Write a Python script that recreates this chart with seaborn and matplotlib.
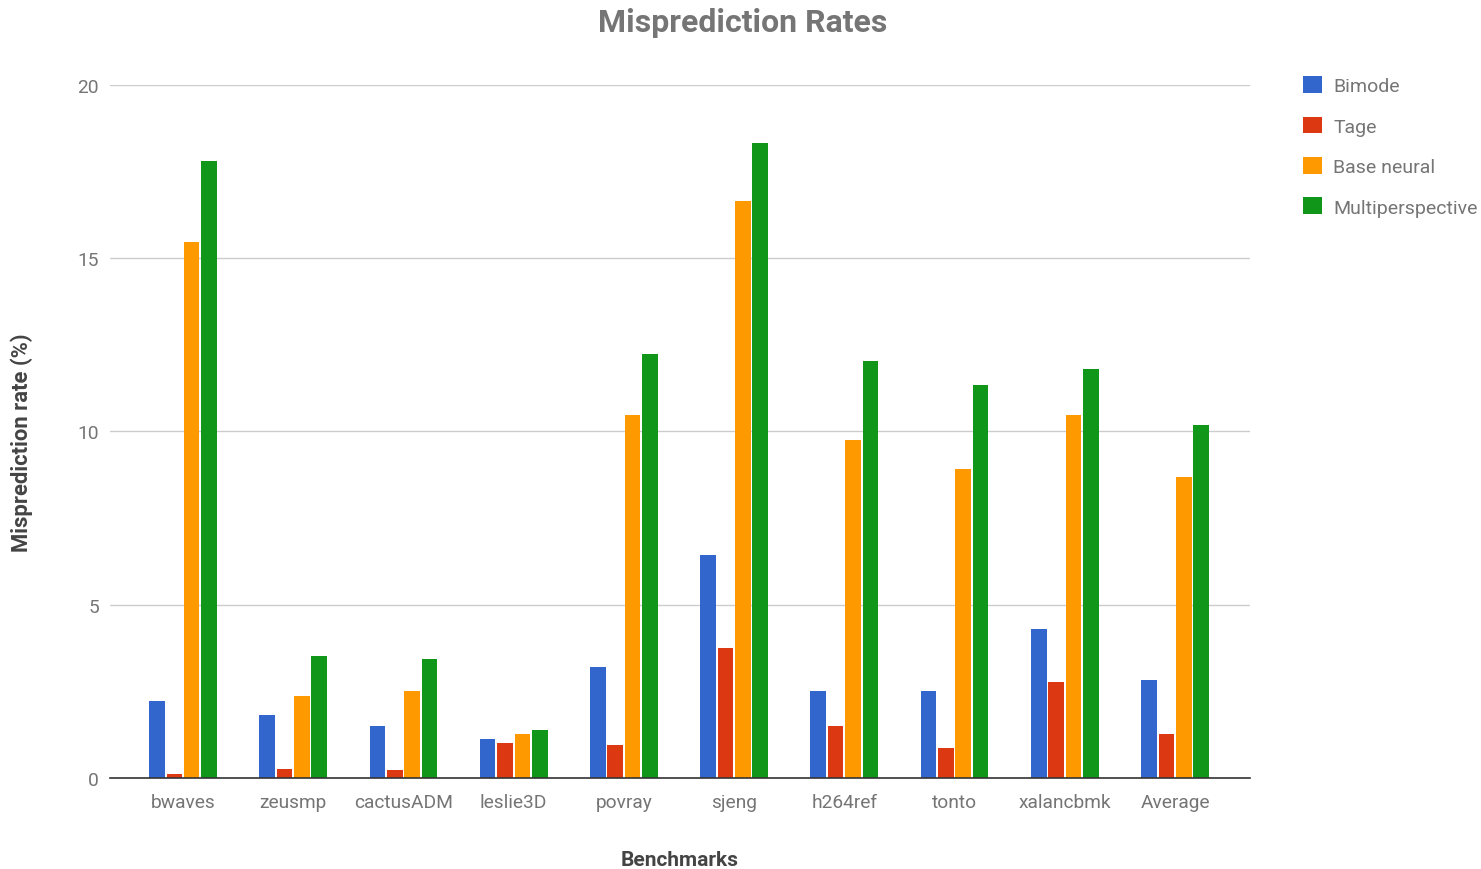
import pandas as pd
import matplotlib.pyplot as plt
import seaborn as sns

# chart data
benchmarks = ["bwaves", "zeusmp", "cactusADM", "leslie3D", "povray",
              "sjeng", "h264ref", "tonto", "xalancbmk", "Average"]
bimode = [2.22, 1.82, 1.50, 1.13, 3.20, 6.44, 2.51, 2.51, 4.30, 2.83]
tage = [0.12, 0.26, 0.23, 1.00, 0.95, 3.75, 1.50, 0.87, 2.77, 1.27]
base_neural = [15.47, 2.37, 2.51, 1.27, 10.48, 16.65, 9.75, 8.92, 10.48, 8.69]
multiperspective = [17.80, 3.52, 3.43, 1.39, 12.24, 18.33, 12.03, 11.34, 11.80, 10.19]

series_names = ["Bimode", "Tage", "Base neural", "Multiperspective"]
colors = ["#3366CC", "#DC3912", "#FF9900", "#109618"]

rows = []
for name, vals in zip(series_names, [bimode, tage, base_neural, multiperspective]):
    for b, v in zip(benchmarks, vals):
        rows.append({"Benchmark": b, "Predictor": name, "Rate": v})
df = pd.DataFrame(rows)

sns.set_theme(style="white")
plt.rcParams["font.family"] = ["Roboto", "DejaVu Sans"]
text_gray = "#757575"

fig = plt.figure(figsize=(14.81, 8.70), dpi=100)
ax = fig.add_axes([0.0743, 0.1046, 0.7697, 0.7966])

sns.barplot(data=df, x="Benchmark", y="Rate", hue="Predictor",
            palette=colors, width=0.63, gap=0.1, saturation=1,
            linewidth=0, ax=ax)

ax.set_xlim(-0.662, 9.68)
ax.set_ylim(0, 20)
ax.set_yticks([0, 5, 10, 15, 20])
ax.yaxis.grid(True, color="#cccccc", linewidth=1)
ax.set_axisbelow(True)
for s in ["top", "right", "left"]:
    ax.spines[s].set_visible(False)
ax.spines["bottom"].set_color("#333333")
ax.spines["bottom"].set_linewidth(1.2)
ax.tick_params(axis="both", length=0, labelsize=13.8, colors=text_gray)
ax.tick_params(axis="x", pad=11)
ax.tick_params(axis="y", pad=8)

ax.set_xlabel("Benchmarks", fontsize=15, fontweight="bold", color="#444444")
ax.xaxis.set_label_coords(0.5, -0.118)
ax.xaxis.label.set_va("center")
ax.set_ylabel("Misprediction rate (%)", fontsize=15.8, fontweight="bold", color="#444444")
ax.yaxis.set_label_coords(-0.0772, 0.485)
ax.yaxis.label.set_va("center")
fig.text(0.5015, 0.974, "Misprediction Rates", ha="center", va="center",
         fontsize=23, fontweight="bold", color=text_gray)

handles, labels = ax.get_legend_handles_labels()
ax.legend(handles, labels, loc="upper left", bbox_to_anchor=(1.04, 1.024),
          frameon=False, fontsize=14, labelcolor=text_gray,
          handlelength=0.95, handleheight=0.95, handletextpad=0.6,
          labelspacing=1.1, borderaxespad=0)

fig.savefig("out.png", dpi=100)
